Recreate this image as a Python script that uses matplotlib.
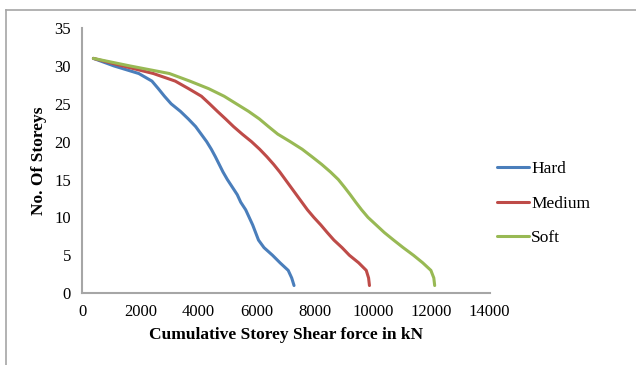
import matplotlib.pyplot as plt
from matplotlib.lines import Line2D

storeys = list(range(31, 0, -1))
hard = [390, 1100, 1950, 2400, 2620, 2830, 3060, 3380, 3650, 3900, 4090, 4280,
        4440, 4580, 4710, 4840, 4990, 5160, 5330, 5450, 5620, 5740, 5860, 5960,
        6060, 6250, 6540, 6800, 7080, 7200, 7280]
medium = [390, 1400, 2450, 3200, 3660, 4100, 4380, 4650, 4930, 5200, 5500, 5820,
          6100, 6350, 6580, 6790, 6980, 7170, 7360, 7550, 7740, 7960, 8200, 8420,
          8650, 8930, 9180, 9500, 9760, 9840, 9870]
soft = [390, 1650, 3000, 3700, 4350, 4880, 5300, 5720, 6090, 6400, 6720, 7150,
        7560, 7900, 8230, 8530, 8800, 9010, 9210, 9400, 9600, 9820, 10100, 10380,
        10700, 11030, 11380, 11700, 11980, 12080, 12110]

series = {
    'Hard': (hard, '#4a7ebb'),
    'Medium': (medium, '#be4b48'),
    'Soft': (soft, '#98b954'),
}

x_ticks = [0, 2000, 4000, 6000, 8000, 10000, 12000, 14000]
y_ticks = [0, 5, 10, 15, 20, 25, 30, 35]

plt.rcParams['font.family'] = ['Liberation Serif', 'DejaVu Serif']

fig = plt.figure(figsize=(6.36, 3.65), dpi=100)
ax = fig.add_axes([0.129, 0.197, 0.641, 0.726])

for name, (values, colour) in series.items():
    ax.plot(values, storeys, color=colour, lw=2.2, label=name,
            solid_capstyle='round', solid_joinstyle='round')

ax.set_xlim(0, 14000)
ax.set_ylim(0, 35)
ax.set_xticks(x_ticks)
ax.set_yticks(y_ticks)
ax.tick_params(length=0, labelsize=12)
ax.tick_params(axis='x', pad=8)
ax.tick_params(axis='y', pad=8)
for side in ['top', 'right']:
    ax.spines[side].set_visible(False)
for side in ['left', 'bottom']:
    ax.spines[side].set_color('#a6a6a6')
    ax.spines[side].set_linewidth(1.5)

ax.set_xlabel('Cumulative Storey Shear force in kN', fontsize=12.5, fontweight='bold', labelpad=5)
ax.set_ylabel('No. Of Storeys', fontsize=12.5, fontweight='bold', labelpad=5)

fig.legend(loc='center left', bbox_to_anchor=(0.782, 0.442), frameon=False,
           fontsize=12.5, handlelength=1.85, handletextpad=0.1,
           labelspacing=1.05, borderpad=0, borderaxespad=0)

# partial frame around the chart area
fig.add_artist(Line2D([0.0095, 1.0], [0.973, 0.973], color='#a6a6a6', lw=1.2))
fig.add_artist(Line2D([0.0095, 0.0095], [0.0, 0.973], color='#a6a6a6', lw=1.2))

fig.savefig('out.png', dpi=100)
